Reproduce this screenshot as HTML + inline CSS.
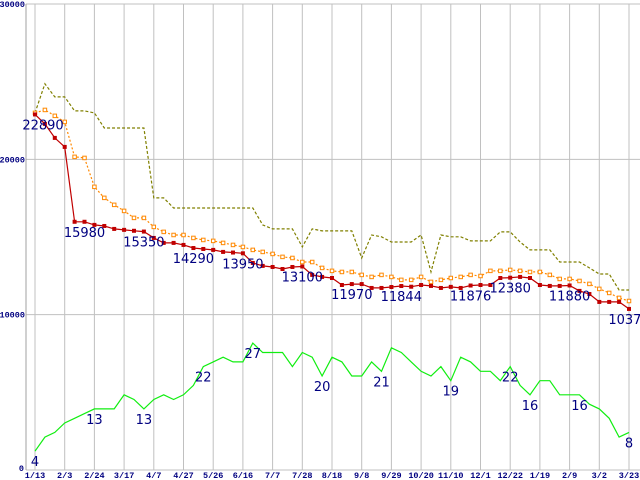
<!DOCTYPE html>
<html><head><meta charset="utf-8"><style>
html,body{margin:0;padding:0;background:#fff;}
svg{display:block;}
.ax{font-family:"Liberation Mono",monospace;font-size:8.5px;font-weight:bold;fill:#000080;}
.dl{font-family:"DejaVu Sans",sans-serif;font-size:13px;fill:#000080;}
</style></head><body>
<svg id="chart" width="640" height="480" viewBox="0 0 640 480" xmlns="http://www.w3.org/2000/svg">
<g id="grid"></g>
<g id="series"></g>
<g id="labels"></g>
</svg>
<script>
const xTickLabels=["1/13","2/3","2/24","3/17","4/7","4/27","5/26","6/16","7/7","7/28","8/18","9/8","9/29","10/20","11/10","12/1","12/22","1/19","2/9","3/2","3/23"];
const yTickValues=[0,10000,20000,30000];
const minPrice=[22890,22280,21380,20800,15980,15980,15780,15710,15520,15460,15400,15350,14940,14620,14620,14490,14290,14230,14170,14040,14000,13950,13330,13140,13070,12940,13070,13100,12560,12430,12360,11910,11970,11970,11720,11720,11780,11844,11800,11910,11850,11720,11790,11720,11876,11910,11910,12360,12380,12430,12360,11910,11850,11850,11880,11530,11330,10820,10820,10820,10370];
const avgPrice=[22990,23180,22800,22410,20160,20090,18230,17520,17070,16680,16230,16230,15650,15330,15130,15130,14940,14810,14750,14620,14490,14360,14170,14040,13910,13720,13650,13390,13390,13010,12820,12750,12750,12560,12430,12560,12430,12240,12240,12430,12110,12240,12360,12430,12560,12490,12820,12820,12880,12820,12750,12750,12560,12300,12300,12170,11980,11660,11400,11080,10880];
const maxPrice=[22990,24860,24020,24020,23120,23120,22990,22020,22020,22020,22020,22020,17520,17520,16870,16870,16870,16870,16870,16870,16870,16870,16870,15780,15520,15520,15520,14360,15520,15390,15390,15390,15390,13650,15130,15010,14680,14680,14680,15130,12750,15130,15010,15010,14750,14750,14750,15330,15330,14680,14170,14170,14170,13390,13390,13390,13010,12620,12620,11590,11590];
const shopCount=[4,7,8,10,11,12,13,13,13,16,15,13,15,16,15,16,18,22,23,24,23,23,27,25,25,25,22,25,24,20,24,23,20,20,23,21,26,25,23,21,20,22,19,24,23,21,21,19,22,18,16,19,19,16,16,16,14,13,11,7,8];
const priceLabelIdx=[0,5,11,16,21,27,32,37,44,48,54,60];
const countLabelIdx=[0,6,11,17,22,29,35,42,48,50,55,60];

const NS="http://www.w3.org/2000/svg";
const X0=35,XSTEP=9.9,Y0=470,YTOP=4;
function xs(i){return X0+i*XSTEP;}
function ys(v){return Y0-v*(Y0-YTOP)/30000;}
function yc(v){return Y0-v*4.7;}
function mk(tag,attrs,parent){const e=document.createElementNS(NS,tag);for(const k in attrs)e.setAttribute(k,attrs[k]);parent.appendChild(e);return e;}
const grid=document.getElementById('grid'),series=document.getElementById('series'),labels=document.getElementById('labels');

yTickValues.forEach(v=>{
  const l=mk('line',{x1:26,x2:640,y1:ys(v),y2:ys(v),stroke:'#c0c0c0','stroke-width':1},grid);
  
  
  const t=mk('text',{x:v===0?24:25,y:ys(v)+3,'text-anchor':'end',class:'ax'},grid);
  if(v===0){t.setAttribute('y',ys(v)+1);t.setAttribute('font-size','7');}
  t.textContent=v;
  
  
});
xTickLabels.forEach((s,k)=>{
  const x=xs(k*3);
  const l=mk('line',{x1:x,x2:x,y1:YTOP,y2:Y0,stroke:'#c0c0c0','stroke-width':1},grid);
  
  
  const t=mk('text',{x:x,y:478,'text-anchor':'middle',class:'ax'},grid);
  t.textContent=s;
  
  
});
const axisL=mk('line',{x1:26,x2:26,y1:YTOP,y2:Y0,stroke:'#a0a0a0','stroke-width':1},grid);



function pts(arr,f){return arr.map((v,i)=>xs(i).toFixed(1)+','+f(v).toFixed(1)).join(' ');}
const gl=mk('polyline',{points:pts(shopCount,yc),fill:'none',stroke:'#11ee11','stroke-width':1.2},series);


const ol=mk('polyline',{points:pts(maxPrice,ys),fill:'none',stroke:'#808000','stroke-width':1.2,'stroke-dasharray':'3,2'},series);


const al=mk('polyline',{points:pts(avgPrice,ys),fill:'none',stroke:'#ff8800','stroke-width':1.2,'stroke-dasharray':'2,2'},series);


avgPrice.forEach((v,i)=>{
  const r=mk('rect',{x:xs(i)-1.75,y:ys(v)-1.75,width:3.5,height:3.5,fill:'#fff',stroke:'#ff8800','stroke-width':1},series);
  
  
});
const rl=mk('polyline',{points:pts(minPrice,ys),fill:'none',stroke:'#c00000','stroke-width':1.2},series);


minPrice.forEach((v,i)=>{
  const r=mk('rect',{x:xs(i)-2,y:ys(v)-2,width:4,height:4,fill:'#c00000'},series);
  
  
});
priceLabelIdx.forEach(i=>{
  let x=xs(i); if(i===0)x=43;
  const t=mk('text',{x:x,y:ys(minPrice[i])+15,'text-anchor':'middle',class:'dl'},labels);
  t.textContent=minPrice[i];
  
  
});
countLabelIdx.forEach(i=>{
  const t=mk('text',{x:xs(i),y:yc(shopCount[i])+15,'text-anchor':'middle',class:'dl'},labels);
  t.textContent=shopCount[i];
  
  
});
</script>
</body></html>
